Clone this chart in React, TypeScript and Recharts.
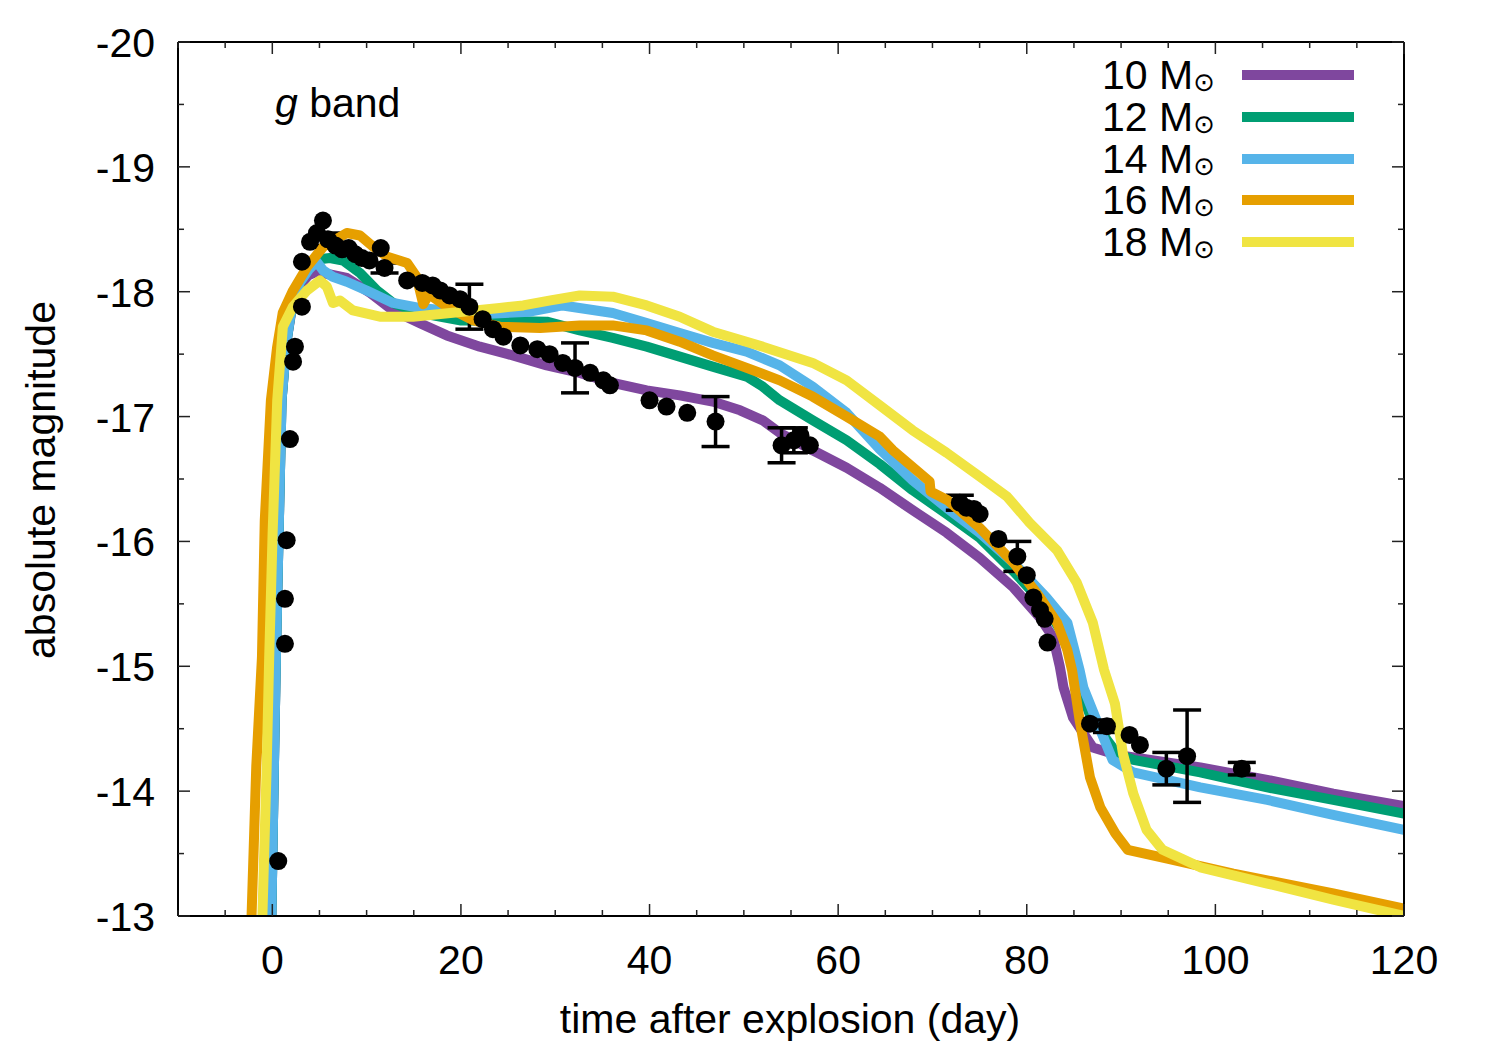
import React from "react";
import { ComposedChart, Line, Scatter, XAxis, YAxis, ErrorBar } from "recharts";

// observed g-band points: day, absolute magnitude, error
const obsDay = [
  0.63, 1.34, 1.34, 1.52, 1.87, 2.2, 2.4, 3.14, 3.14, 4.0, 4.73, 5.37, 5.9, 6.7, 7.4, 8.1,
  8.8, 9.5, 10.3, 11.5, 11.9, 14.3, 15.9, 17.0, 17.8, 18.8, 19.9, 20.9, 22.3, 23.4, 24.5,
  26.3, 28.1, 29.4, 30.8, 32.1, 33.7, 35.1, 35.8, 40.0, 41.8, 44.0, 47.0, 54.0, 55.3, 56.0,
  57.0, 72.9, 73.6, 74.4, 75.0, 77.0, 79.0, 80.0, 80.7, 81.4, 81.9, 82.2, 86.7, 88.5, 90.9,
  92.0, 94.8, 97.0, 102.8,
];
const obsMag = [
  -13.44, -15.18, -15.54, -16.01, -16.82, -17.44, -17.56, -17.88, -18.24, -18.4, -18.47,
  -18.57, -18.42, -18.37, -18.34, -18.35, -18.3, -18.27, -18.25, -18.35, -18.19, -18.09,
  -18.07, -18.05, -18.01, -17.97, -17.94, -17.88, -17.78, -17.7, -17.64, -17.57, -17.54,
  -17.5, -17.43, -17.39, -17.35, -17.29, -17.25, -17.13, -17.08, -17.03, -16.96, -16.77,
  -16.81, -16.85, -16.77, -16.31, -16.27, -16.26, -16.22, -16.02, -15.88, -15.73, -15.55,
  -15.45, -15.38, -15.19, -14.54, -14.52, -14.45, -14.37, -14.18, -14.28, -14.18,
];
const obsErr = [
  0, 0, 0, 0, 0, 0, 0, 0, 0, 0, 0, 0, 0.05, 0, 0, 0, 0, 0, 0, 0, 0.04, 0, 0, 0, 0, 0, 0,
  0.18, 0, 0, 0, 0, 0, 0, 0, 0.2, 0, 0, 0, 0, 0, 0, 0.2, 0.14, 0.1, 0, 0, 0.06, 0, 0, 0, 0,
  0.12, 0, 0, 0, 0, 0, 0, 0.05, 0, 0, 0.13, 0.37, 0.05,
];

// model light curves [day, mag]
const m10: [number, number][] = [
  [-0.1, -13.0], [0.17, -14.19], [0.38, -15.07], [0.98, -17.13], [1.5, -17.6], [2.1, -17.88],
  [2.9, -18.05], [3.8, -18.13], [4.7, -18.16], [6.0, -18.14], [7.9, -18.11], [10.4, -17.99],
  [12.8, -17.85], [15.6, -17.75], [18.5, -17.65], [22.0, -17.56], [25.0, -17.5], [29.1, -17.41],
  [32.6, -17.35], [36.1, -17.27], [39.7, -17.21], [43.2, -17.17], [46.7, -17.12], [49.6, -17.05],
  [52.0, -16.97], [53.8, -16.87], [57.3, -16.73], [60.9, -16.59], [64.4, -16.43], [67.9, -16.25],
  [71.5, -16.07], [75.0, -15.87], [78.6, -15.63], [81.4, -15.39], [82.8, -15.23], [83.5, -15.0],
  [83.9, -14.83], [84.9, -14.59], [87.0, -14.35], [89.6, -14.29], [98.4, -14.19], [105.5, -14.09],
  [112.5, -13.98], [120, -13.88],
];
const m12: [number, number][] = [
  [-0.1, -13.0], [0.17, -14.19], [0.38, -15.07], [0.98, -17.13], [1.5, -17.6], [2.1, -17.9],
  [2.9, -18.07], [4.0, -18.2], [5.0, -18.26], [6.1, -18.27], [7.5, -18.25], [9.3, -18.15],
  [11.1, -18.01], [12.8, -17.91], [15.6, -17.83], [19.9, -17.77], [22.0, -17.77], [29.1, -17.76],
  [32.6, -17.69], [36.1, -17.63], [39.7, -17.56], [43.2, -17.48], [46.7, -17.4], [50.3, -17.32],
  [52.0, -17.24], [53.8, -17.13], [57.3, -16.97], [60.9, -16.81], [64.4, -16.62], [67.9, -16.41],
  [71.5, -16.22], [75.0, -16.03], [78.6, -15.76], [81.4, -15.53], [82.5, -15.42], [84.3, -15.2],
  [85.3, -14.89], [86.7, -14.61], [87.8, -14.49], [88.5, -14.41], [89.6, -14.3], [91.3, -14.25],
  [98.4, -14.15], [105.5, -14.03], [112.5, -13.93], [120, -13.82],
];
const m14: [number, number][] = [
  [-0.1, -13.0], [0.17, -14.19], [0.38, -15.07], [0.98, -17.13], [1.5, -17.6], [2.1, -17.9],
  [2.9, -18.07], [3.9, -18.18], [4.7, -18.24], [5.4, -18.17], [6.4, -18.12], [7.9, -18.08],
  [10.0, -18.01], [12.8, -17.91], [15.6, -17.87], [18.5, -17.85], [22.0, -17.82], [27.3, -17.84],
  [30.8, -17.89], [36.1, -17.83], [39.7, -17.75], [43.2, -17.67], [46.7, -17.59], [50.3, -17.52],
  [53.8, -17.41], [57.3, -17.24], [60.9, -17.03], [64.4, -16.74], [67.9, -16.49], [71.5, -16.27],
  [75.0, -16.07], [78.6, -15.83], [82.1, -15.55], [84.3, -15.35], [85.6, -14.97], [86.0, -14.83],
  [87.8, -14.49], [89.1, -14.25], [91.3, -14.15], [98.4, -14.03], [105.5, -13.93], [112.5, -13.81],
  [120, -13.69],
];
const m16: [number, number][] = [
  [-2.2, -13.0], [-1.7, -14.2], [-1.1, -15.07], [-0.8, -16.17], [-0.15, -17.13], [0.5, -17.55],
  [1.1, -17.83], [2.2, -18.01], [3.7, -18.2], [5.4, -18.36], [7.9, -18.47], [9.3, -18.45],
  [10.7, -18.36], [12.2, -18.28], [14.3, -18.23], [15.3, -18.12], [16.0, -17.9], [16.6, -17.98],
  [18.5, -17.88], [21.3, -17.77], [24.1, -17.72], [28.4, -17.71], [32.6, -17.73], [36.1, -17.73],
  [39.7, -17.69], [43.2, -17.6], [46.7, -17.49], [50.3, -17.39], [53.8, -17.29], [57.3, -17.16],
  [60.9, -17.0], [64.4, -16.84], [65.8, -16.73], [69.7, -16.48], [69.8, -16.4], [71.6, -16.33],
  [75.0, -16.11], [78.6, -15.83], [81.4, -15.55], [83.2, -15.35], [84.3, -15.13], [84.8, -14.97],
  [85.6, -14.57], [86.7, -14.11], [87.8, -13.87], [89.4, -13.66], [90.7, -13.53], [94.9, -13.46],
  [101.9, -13.34], [112.5, -13.18], [120, -13.06],
];
const m18: [number, number][] = [
  [-1.05, -13.0], [-0.6, -14.19], [-0.33, -15.07], [0.03, -16.06], [0.52, -17.13], [1.12, -17.72],
  [2.18, -17.88], [3.67, -18.01], [5.05, -18.09], [5.79, -18.04], [6.43, -17.91], [7.17, -17.93],
  [8.55, -17.85], [11.4, -17.8], [14.9, -17.8], [20.2, -17.84], [24.1, -17.87], [26.6, -17.89],
  [29.5, -17.93], [32.6, -17.97], [36.1, -17.96], [39.7, -17.89], [43.2, -17.8], [46.7, -17.68],
  [52.0, -17.56], [57.3, -17.43], [60.9, -17.29], [64.4, -17.09], [67.9, -16.89], [71.5, -16.71],
  [75.0, -16.52], [77.9, -16.36], [80.3, -16.15], [83.2, -15.93], [85.3, -15.67], [87.0, -15.35],
  [88.2, -14.97], [89.35, -14.7], [90.2, -14.3], [91.3, -13.98], [92.7, -13.69], [94.4, -13.53],
  [98.4, -13.39], [105.5, -13.26], [112.5, -13.13], [120, -13.0],
];

const modelNames = ["10", "12", "14", "16", "18"];
const modelColors = ["#7F479E", "#009E73", "#56B4E9", "#E69F00", "#F0E442"];

const xTicks = [-10, -5, 0, 5, 10, 15, 20, 25, 30, 35, 40, 45, 50, 55, 60, 65, 70, 75, 80, 85, 90, 95, 100, 105, 110, 115, 120];
const yTicks = [-20, -19.5, -19, -18.5, -18, -17.5, -17, -16.5, -16, -15.5, -15, -14.5, -14, -13.5, -13];

const FONT = "'Liberation Sans', Arial, Helvetica, sans-serif";
const FS = 41;

const obs = obsDay.map((t, i) => ({ t, m: obsMag[i], err: obsErr[i] }));
const rows = (pts: [number, number][]) => pts.map(([t, m]) => ({ t, m }));
const models = [m10, m12, m14, m16, m18].map((pts, i) => ({
  name: modelNames[i],
  color: modelColors[i],
  data: rows(pts),
}));

const isMajorX = (v: number) => v % 20 === 0;
const isMajorY = (v: number) => Number.isInteger(v);

const BottomTick = (p: any) => {
  const v = p.payload.value;
  const major = isMajorX(v);
  return (
    <g>
      <line x1={p.x} x2={p.x} y1={p.y} y2={p.y - (major ? 12 : 6)} stroke="#222" strokeWidth={1.5} />
      {major && (
        <text x={p.x} y={p.y + 58} textAnchor="middle" fontSize={FS} fontFamily={FONT} fill="#000">
          {v}
        </text>
      )}
    </g>
  );
};
const TopTick = (p: any) => {
  const major = isMajorX(p.payload.value);
  return <line x1={p.x} x2={p.x} y1={p.y} y2={p.y + (major ? 12 : 6)} stroke="#222" strokeWidth={1.5} />;
};
const LeftTick = (p: any) => {
  const v = p.payload.value;
  const major = isMajorY(v);
  return (
    <g>
      <line x1={p.x} x2={p.x + (major ? 12 : 6)} y1={p.y} y2={p.y} stroke="#222" strokeWidth={1.5} />
      {major && (
        <text x={p.x - 23} y={p.y + 15} textAnchor="end" fontSize={FS} fontFamily={FONT} fill="#000">
          {v}
        </text>
      )}
    </g>
  );
};
const RightTick = (p: any) => {
  const major = isMajorY(p.payload.value);
  return <line x1={p.x} x2={p.x - (major ? 12 : 6)} y1={p.y} y2={p.y} stroke="#222" strokeWidth={1.5} />;
};

const legendY = [75, 117, 159, 200, 242];

export default function App() {
  const axisLine = { stroke: "#000", strokeWidth: 2 };
  const lineProps = (m: (typeof models)[number]) => (
    <Line
      key={m.name}
      xAxisId="b"
      yAxisId="l"
      data={m.data}
      dataKey="m"
      type="linear"
      stroke={m.color}
      strokeWidth={10}
      strokeLinejoin="round"
      dot={false}
      activeDot={false}
      isAnimationActive={false}
    />
  );

  return (
    <div style={{ position: "absolute", left: 0, top: 0, width: 1500, height: 1050, background: "#fff" }}>
      <ComposedChart width={1500} height={1050} margin={{ top: 41, right: 0, bottom: 0, left: 0 }}>
        <XAxis
          xAxisId="b"
          dataKey="t"
          type="number"
          domain={[-10, 120]}
          allowDataOverflow
          ticks={xTicks}
          interval={0}
          height={134}
          tickSize={0}
          tickMargin={0}
          tickLine={false}
          axisLine={axisLine}
          tick={(p: any) => <BottomTick {...p} />}
        />
        <XAxis
          xAxisId="tp"
          orientation="top"
          dataKey="t"
          type="number"
          domain={[-10, 120]}
          allowDataOverflow
          ticks={xTicks}
          interval={0}
          height={1}
          tickSize={0}
          tickMargin={0}
          tickLine={false}
          axisLine={axisLine}
          tick={(p: any) => <TopTick {...p} />}
        />
        <YAxis
          yAxisId="l"
          dataKey="m"
          type="number"
          domain={[-20, -13]}
          reversed
          allowDataOverflow
          ticks={yTicks}
          interval={0}
          width={178}
          tickSize={0}
          tickMargin={0}
          tickLine={false}
          axisLine={axisLine}
          tick={(p: any) => <LeftTick {...p} />}
        />
        <YAxis
          yAxisId="r"
          orientation="right"
          dataKey="m"
          type="number"
          domain={[-20, -13]}
          reversed
          allowDataOverflow
          ticks={yTicks}
          interval={0}
          width={96}
          tickSize={0}
          tickMargin={0}
          tickLine={false}
          axisLine={axisLine}
          tick={(p: any) => <RightTick {...p} />}
        />
        {models.slice(0, 3).map(lineProps)}
        <Scatter
          xAxisId="b"
          yAxisId="l"
          data={obs}
          dataKey="m"
          fill="#000"
          isAnimationActive={false}
          shape={(p: any) => <circle cx={p.cx} cy={p.cy} r={9} fill="#000" />}
        >
          <ErrorBar dataKey="err" direction="y" width={14} strokeWidth={3.5} stroke="#000" isAnimationActive={false} />
        </Scatter>
        {models.slice(3).map(lineProps)}
      </ComposedChart>

      <svg
        width={1500}
        height={1050}
        style={{ position: "absolute", left: 0, top: 0, pointerEvents: "none" }}
        fontFamily={FONT}
        fontSize={FS}
      >
        <text x={275} y={117} fill="#000">
          <tspan fontStyle="italic">g</tspan> band
        </text>
        <text x={790} y={1033} textAnchor="middle" fill="#000">
          time after explosion (day)
        </text>
        <text transform="translate(55,480) rotate(-90)" textAnchor="middle" fill="#000">
          absolute magnitude
        </text>
        {models.map((m, i) => (
          <g key={m.name}>
            <text x={1215} y={legendY[i] + 14} textAnchor="end" fill="#000">
              {m.name} M
              <tspan fontSize={26} dy={2} fontFamily="'DejaVu Sans', sans-serif">
                ⊙
              </tspan>
            </text>
            <line x1={1242} x2={1354} y1={legendY[i]} y2={legendY[i]} stroke={m.color} strokeWidth={10} />
          </g>
        ))}
      </svg>
    </div>
  );
}
